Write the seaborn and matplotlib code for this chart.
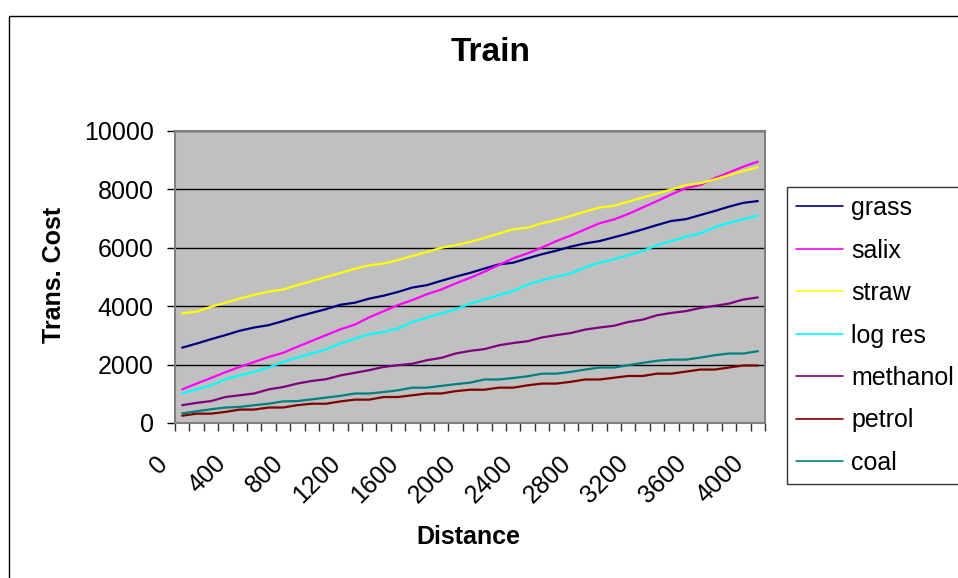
import numpy as np
import pandas as pd
import matplotlib
matplotlib.use("Agg")
import matplotlib.pyplot as plt
import matplotlib.transforms as mtransforms
from matplotlib.lines import Line2D
from matplotlib.patches import Rectangle
import seaborn as sns

# Transport cost by rail versus distance, one series per fuel
distance = list(range(0, 4001, 100))
tick_labels = [str(d) for d in distance[::4]]

grass = [2580, 2720, 2870, 3010, 3160, 3270, 3350, 3490, 3640, 3770, 3900, 4050, 4120, 4260,
         4360, 4490, 4640, 4720, 4870, 5010, 5140, 5290, 5430, 5490, 5640, 5780, 5900, 6040,
         6150, 6230, 6360, 6490, 6630, 6780, 6920, 6980, 7120, 7260, 7410, 7540, 7600]
salix = [1150, 1350, 1540, 1740, 1920, 2090, 2260, 2400, 2610, 2810, 3010, 3210, 3370, 3620,
         3830, 4040, 4210, 4410, 4570, 4780, 4970, 5180, 5410, 5640, 5810, 6010, 6230, 6420,
         6630, 6840, 6970, 7160, 7380, 7600, 7830, 8040, 8150, 8380, 8580, 8780, 8950]
straw = [3760, 3810, 3980, 4120, 4260, 4390, 4500, 4570, 4720, 4860, 5000, 5140, 5280, 5400,
         5460, 5580, 5720, 5860, 6000, 6090, 6200, 6340, 6490, 6630, 6690, 6840, 6950, 7090,
         7240, 7380, 7440, 7580, 7720, 7860, 8000, 8150, 8210, 8340, 8490, 8630, 8760]
log_res = [1020, 1150, 1290, 1500, 1630, 1750, 1900, 2090, 2240, 2380, 2520, 2720, 2890, 3040,
           3120, 3240, 3460, 3610, 3750, 3890, 4090, 4230, 4380, 4520, 4740, 4890, 5010, 5120,
           5330, 5490, 5610, 5750, 5890, 6090, 6230, 6380, 6490, 6700, 6860, 6980, 7100]
methanol = [610, 690, 750, 890, 950, 1010, 1150, 1230, 1350, 1440, 1500, 1630, 1720, 1810,
            1920, 1980, 2030, 2150, 2230, 2380, 2470, 2530, 2660, 2740, 2800, 2930, 3010, 3080,
            3200, 3270, 3330, 3460, 3540, 3690, 3770, 3830, 3940, 4010, 4090, 4230, 4300]
petrol = [250, 320, 320, 380, 460, 460, 530, 530, 610, 660, 660, 740, 800, 800,
          890, 890, 950, 1010, 1010, 1090, 1140, 1140, 1210, 1210, 1290, 1350, 1350, 1410,
          1490, 1490, 1550, 1610, 1610, 1690, 1690, 1760, 1830, 1830, 1900, 1970, 1970]
coal = [330, 400, 470, 530, 550, 610, 660, 740, 750, 810, 870, 930, 1010, 1010,
        1060, 1120, 1210, 1210, 1270, 1330, 1380, 1490, 1490, 1540, 1600, 1690, 1690, 1750,
        1830, 1900, 1900, 1980, 2060, 2130, 2170, 2170, 2240, 2320, 2380, 2380, 2460]

series_names = ["grass", "salix", "straw", "log res", "methanol", "petrol", "coal"]
series_values = [grass, salix, straw, log_res, methanol, petrol, coal]
series_colors = ["#000080", "#FF00FF", "#FFFF00", "#00FFFF", "#800080", "#800000", "#008080"]

df = pd.DataFrame({
    "Distance": distance * len(series_names),
    "Cost": [v for vals in series_values for v in vals],
    "Fuel": [n for n, vals in zip(series_names, series_values) for _ in vals],
})

sns.set_style("white")
plt.rcParams["font.family"] = ["Liberation Sans", "DejaVu Sans"]
plt.rcParams["text.color"] = "black"
plt.rcParams["axes.labelcolor"] = "black"
plt.rcParams["xtick.color"] = "black"
plt.rcParams["ytick.color"] = "black"

W, H = 958, 578
fig = plt.figure(figsize=(W / 100, H / 100), dpi=100)
fig.patch.set_facecolor("white")
ax = fig.add_axes([175 / W, 1 - 423 / H, 590 / W, 292 / H])
ax.set_facecolor("#C0C0C0")

sns.lineplot(data=df, x="Distance", y="Cost", hue="Fuel", hue_order=series_names,
             palette=series_colors, linewidth=1.6, ax=ax, legend=False)

ax.set_xlim(-50, 4050)
ax.set_ylim(0, 10000)
ax.set_axisbelow(True)
ax.yaxis.grid(True, color="black", linewidth=1.0)
ax.xaxis.grid(False)

for side in ["left", "bottom", "top", "right"]:
    ax.spines[side].set_color("#808080")
    ax.spines[side].set_linewidth(1.5)

ax.set_yticks(range(0, 10001, 2000))
ax.tick_params(axis="y", which="major", left=True, length=5.8, width=1, color="black",
               pad=9.5, labelsize=18, labelcolor="black")

ax.set_xticks(distance[::4])
ax.set_xticks(np.arange(-50, 4051, 100), minor=True)
ax.tick_params(axis="x", which="minor", bottom=True, length=5.8, width=1, color="#303030")
ax.tick_params(axis="x", which="major", bottom=True, length=0, pad=26.5, labelsize=18,
               labelcolor="black")
ax.set_xticklabels(tick_labels, rotation=45, ha="right", va="center",
                   rotation_mode="anchor")
shift = mtransforms.ScaledTranslation(-18 / 100, 0, fig.dpi_scale_trans)
for lab in ax.get_xticklabels():
    lab.set_transform(lab.get_transform() + shift)

ax.set_xlabel("")
ax.set_ylabel("")

fig.text(491 / W, 1 - 61 / H, "Train", ha="center", va="baseline",
         fontsize=24, fontweight="bold", color="black")
fig.text(468 / W, 1 - 544 / H, "Distance", ha="center", va="baseline",
         fontsize=18, fontweight="bold", color="black")
fig.text(54 / W, 1 - 275 / H, "Trans. Cost", ha="center", va="center", rotation=90,
         fontsize=18, fontweight="bold", color="black")

handles = [Line2D([0], [0], color=c, linewidth=1.2) for c in series_colors]
leg = fig.legend(handles, series_names, loc="upper left",
                 bbox_to_anchor=(787 / W, 1 - 187 / H), bbox_transform=fig.transFigure,
                 borderaxespad=0, fontsize=18, frameon=True, fancybox=False,
                 handlelength=1.88, handletextpad=0.32, labelspacing=0.74, borderpad=0.36)
leg.get_frame().set_edgecolor("black")
leg.get_frame().set_linewidth(1.0)
for t in leg.get_texts():
    t.set_color("black")

# outer chart border (top and left edges visible)
fig.add_artist(Rectangle((9 / W, -0.5), 2.0, 1.5 - 16 / H, transform=fig.transFigure,
                         fill=False, edgecolor="black", linewidth=1.0))

fig.savefig("out.png", dpi=100)
